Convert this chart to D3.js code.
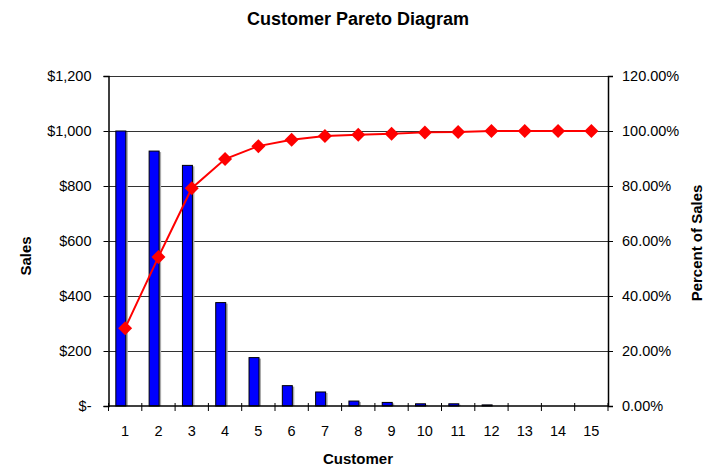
<html><head>
<script src="https://d3js.org/d3.v7.min.js"></script>
<style>
  body { margin: 0; background: #fff; }
  text { font-family: "Liberation Sans", Arial, sans-serif; }
</style>
</head>
<body>
<script>
  // data
  var customers = [1,2,3,4,5,6,7,8,9,10,11,12,13,14,15];
  var sales = [1000,927,875,376,176,74,51,18,13,8,8,4,0,0,0];
  var cumPercent = [0.283,0.542,0.792,0.898,0.945,0.968,0.982,0.986,0.990,0.995,0.996,1,1,1,1];
  var salesTicks = [0,200,400,600,800,1000,1200];
  var pctTicks = [0,0.2,0.4,0.6,0.8,1.0,1.2];

  let width = 717, height = 468;
  let margin = { top: 76, right: 109, bottom: 62, left: 108.5 };
  let svg = d3.select("body").append("svg").attr("width", width).attr("height", height);

  let xScale = d3.scaleBand().domain(customers).range([margin.left, width - margin.right]).padding(0);
  let yScale = d3.scaleLinear().domain([0,1200]).range([height - margin.bottom, margin.top]);
  let pScale = d3.scaleLinear().domain([0,1.2]).range([height - margin.bottom, margin.top]);
  let bw = xScale.bandwidth();
  let x0 = margin.left, x1 = width - margin.right, yb = height - margin.bottom;

  // gridlines
  salesTicks.forEach(t => {
    if (t == 0) return;
    svg.append("line").attr("x1", x0).attr("x2", x1).attr("y1", yScale(t)).attr("y2", yScale(t))
      .attr("stroke", "#333").attr("stroke-width", 1).attr("shape-rendering", "crispEdges");
  });

  // bars with shadow
  customers.forEach((c, i) => {
    if (sales[i] <= 0) return;
    let bx = xScale(c) + bw * 0.22, bwid = bw * 0.3;
    let y = yScale(sales[i]), h = yb - yScale(sales[i]);
    svg.append("rect").attr("x", bx + 2).attr("y", y + 1).attr("width", bwid).attr("height", h - 1)
      .attr("fill", "#aaa");
    svg.append("rect").attr("x", bx).attr("y", y).attr("width", bwid).attr("height", h)
      .attr("fill", "#0000ff").attr("stroke", "#000").attr("stroke-width", 1);
  });

  // axes
  let leftAxis = d3.axisLeft(yScale).tickValues(salesTicks).tickSize(5).tickPadding(12)
    .tickFormat(d => d == 0 ? "$-" : "$" + d3.format(",")(d));
  let rightAxis = d3.axisRight(pScale).tickValues(pctTicks).tickSize(5).tickPadding(9)
    .tickFormat(d3.format(".2%"));
  let bottomAxis = d3.axisBottom(xScale).tickSize(0).tickPadding(20);

  let gl = svg.append("g").attr("transform", "translate(" + x0 + ",0)").call(leftAxis);
  let gr = svg.append("g").attr("transform", "translate(" + x1 + ",0)").call(rightAxis);
  let gb = svg.append("g").attr("transform", "translate(0," + yb + ")").call(bottomAxis);
  [gl, gr, gb].forEach(g => {
    g.selectAll("text").attr("font-size", 14.5).attr("fill", "#000")
      .attr("font-family", "'Liberation Sans', Arial, sans-serif");
    g.selectAll("line").attr("stroke", "#000");
    g.select(".domain").attr("stroke", "#000").attr("stroke-width", 1.5);
  });
  gb.select(".domain").attr("d", "M" + x0 + ",0H" + x1);

  // category tick marks crossing the axis
  d3.range(customers.length + 1).forEach(i => {
    let tx = x0 + i * bw;
    svg.append("line").attr("x1", tx).attr("x2", tx).attr("y1", yb - 3).attr("y2", yb + 5)
      .attr("stroke", "#000").attr("stroke-width", 1);
  });

  // cumulative percent line
  let line = d3.line().x((d, i) => xScale(customers[i]) + bw / 2).y(d => pScale(d));
  svg.append("path").datum(cumPercent).attr("d", line)
    .attr("fill", "none").attr("stroke", "#ff0000").attr("stroke-width", 2);
  svg.selectAll(".marker").data(cumPercent).enter().append("path")
    .attr("class", "marker")
    .attr("transform", (d, i) => "translate(" + (xScale(customers[i]) + bw / 2) + "," + pScale(d) + ")")
    .attr("d", "M0,-7L7,0L0,7L-7,0Z")
    .attr("fill", "#ff0000");

  // titles
  svg.append("text").attr("x", 358).attr("y", 25).attr("text-anchor", "middle")
    .attr("font-size", 18).attr("font-weight", "bold").text("Customer Pareto Diagram");
  svg.append("text").attr("x", 358).attr("y", 464).attr("text-anchor", "middle")
    .attr("font-size", 15).attr("font-weight", "bold").text("Customer");
  svg.append("text").attr("transform", "translate(31,256) rotate(-90)").attr("text-anchor", "middle")
    .attr("font-size", 15).attr("font-weight", "bold").text("Sales");
  svg.append("text").attr("transform", "translate(702,243) rotate(-90)").attr("text-anchor", "middle")
    .attr("font-size", 15).attr("font-weight", "bold").text("Percent of Sales");
</script>
</body>
</html>
